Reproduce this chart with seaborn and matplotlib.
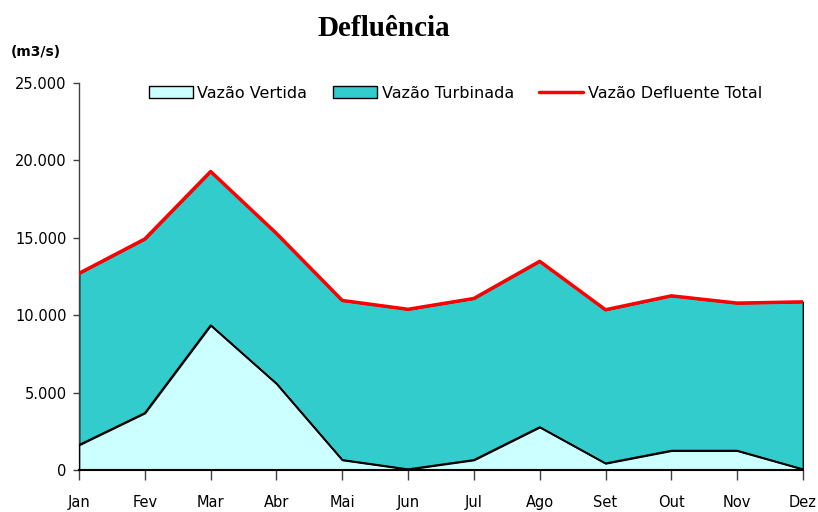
import numpy as np
import pandas as pd
import matplotlib
matplotlib.use('Agg')
import matplotlib.pyplot as plt
import seaborn as sns
from matplotlib.patches import Patch
from matplotlib.lines import Line2D
from matplotlib.ticker import FuncFormatter

# monthly values (m3/s)
meses = ['Jan', 'Fev', 'Mar', 'Abr', 'Mai', 'Jun', 'Jul', 'Ago', 'Set', 'Out', 'Nov', 'Dez']
vertida = [1620, 3680, 9350, 5580, 650, 50, 650, 2770, 430, 1250, 1250, 50]
total = [12700, 14920, 19280, 15280, 10950, 10380, 11080, 13480, 10350, 11250, 10780, 10860]
turbinada = [t - v for t, v in zip(total, vertida)]

df = pd.DataFrame({'Mes': meses, 'Vertida': vertida, 'Turbinada': turbinada, 'Total': total})
df['x'] = range(len(meses))

sns.set_theme(style='white')
plt.rcParams['font.family'] = ['DejaVu Sans']
plt.rcParams['text.color'] = 'black'
plt.rcParams['xtick.color'] = 'black'
plt.rcParams['ytick.color'] = 'black'

fig = plt.figure(figsize=(8.18, 5.12), dpi=100)
ax = fig.add_axes([0.0966, 0.082, 0.885, 0.756])

# stacked areas
ax.fill_between(df['x'], 0, df['Vertida'], color='#CCFFFF', edgecolor='black', linewidth=1.2, zorder=3)
ax.fill_between(df['x'], df['Vertida'], df['Total'], color='#33CCCC', edgecolor='black', linewidth=1.2, zorder=2)
ax.plot(df['x'], df['Vertida'], color='black', linewidth=1.3, zorder=4)
sns.lineplot(x='x', y='Total', data=df, color='#FF0000', linewidth=2.5, ax=ax, zorder=5)

ax.set_xlim(0, len(meses) - 1)
ax.set_ylim(0, 25000)
ax.set_xticks(df['x'])
ax.set_xticklabels(meses, fontsize=10.5)
ax.set_yticks(range(0, 25001, 5000))
ax.yaxis.set_major_formatter(FuncFormatter(lambda v, p: f'{int(v):,}'.replace(',', '.')))
ax.tick_params(axis='y', labelsize=10.5, length=4, width=1, color='#404040', direction='out', left=True, pad=5)
ax.tick_params(axis='x', length=7, width=1, color='#404040', direction='out', bottom=True, pad=11)
ax.set_xlabel('')
ax.set_ylabel('')

for s in ['top', 'right']:
    ax.spines[s].set_visible(False)
ax.spines['left'].set_color('#404040')
ax.spines['bottom'].set_color('black')
ax.spines['bottom'].set_linewidth(1.5)
ax.spines['left'].set_linewidth(1)
ax.spines['bottom'].set_zorder(6)

fig.text(0.469, 0.944, 'Defluência', ha='center', va='center', fontsize=21, fontweight='bold',
         family='Liberation Serif', color='black')
fig.text(0.013, 0.898, '(m3/s)', ha='left', va='center', fontsize=10, fontweight='bold', color='black')

handles = [Patch(facecolor='#CCFFFF', edgecolor='black', label='Vazão Vertida'),
           Patch(facecolor='#33CCCC', edgecolor='black', label='Vazão Turbinada'),
           Line2D([0], [0], color='#FF0000', linewidth=2.5, label='Vazão Defluente Total')]
ax.legend(handles=handles, loc='upper center', bbox_to_anchor=(0.52, 1.03), ncol=3, frameon=False,
          fontsize=11.5, handlelength=2.75, handleheight=0.75, columnspacing=1.6, handletextpad=0.3)

plt.savefig('out.png', dpi=100)
